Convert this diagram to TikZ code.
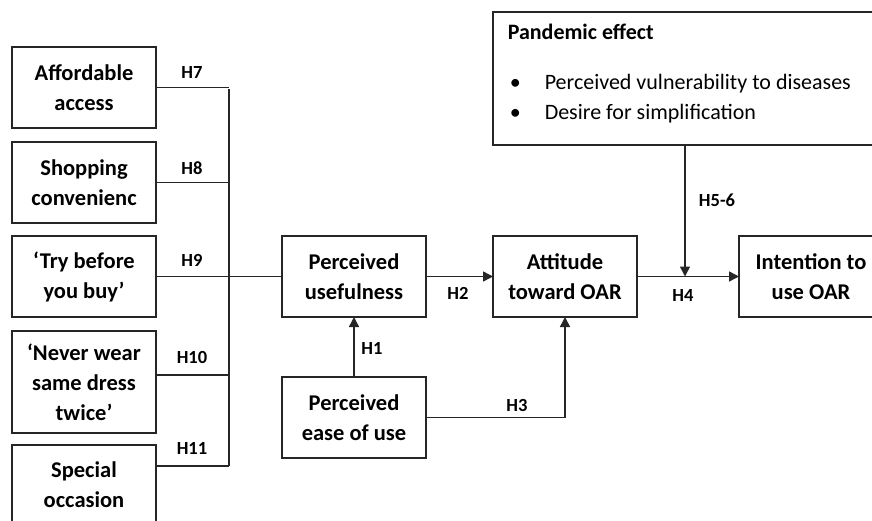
\documentclass[tikz,border=0pt]{standalone}
\usepackage{fontspec}
\setmainfont{Carlito}
\usetikzlibrary{arrows.meta, positioning}

\begin{document}
\begin{tikzpicture}[x=1pt, y=-1pt, line width=1.5pt, draw=black!85,
    box/.style={rectangle, draw, fill=white, minimum width=144pt, minimum height=81pt,
        inner sep=2pt, outer sep=0pt, align=center, font=\fontsize{22.5}{30}\selectfont\bfseries},
    lbl/.style={font=\fontsize{18.5}{20}\selectfont\bfseries, inner sep=0pt},
    item/.style={anchor=base west, font=\fontsize{22}{26}\selectfont, inner sep=0pt},
    arr/.style={-{Triangle[length=10pt, width=10pt]}}]

    \useasboundingbox (0,0) rectangle (872,521);
    \clip (0,0) rectangle (872,521);

    % antecedents
    \node[box] (afford) at (84,87.5) {Affordable\\access};
    \node[box, below=14pt of afford] (shop) {Shopping\\convenienc};
    \node[box, below=13pt of shop] (try) {‘Try before\\you buy’};
    \node[box, below=14pt of try, minimum height=102pt] (never) {‘Never wear\\same dress\\twice’};
    \node[box, below=12pt of never, minimum height=80pt] (special) {Special\\occasion};

    % TAM core
    \node[box] (pu) at (354,276.5) {Perceived\\usefulness};
    \node[box, right=67pt of pu] (att) {Attitude\\toward OAR};
    \node[box, right=102pt of att] (intent) {Intention to\\use OAR};
    \node[box, below=60pt of pu] (ease) {Perceived\\ease of use};
    \node[box, minimum width=384pt, minimum height=133pt] (pan) at (685,78.5) {};

    \node[item, font=\fontsize{22}{26}\selectfont\bfseries] (pantitle) at (507,40) {Pandemic effect};
    \node[item] (bul1) at (509,90) {\textbullet};
    \node[item] (vuln) at (544,90) {Perceived vulnerability to diseases};
    \node[item] (bul2) at (509,120) {\textbullet};
    \node[item] (simp) at (544,120) {Desire for simplification};

    % bus
    \coordinate (bustop) at (229,89);
    \coordinate (busbot) at (229,466);
    \draw (bustop) -- (busbot);
    \draw (afford.east) -- (afford.east -| bustop);
    \draw (shop.east) -- (shop.east -| bustop);
    \draw (try.east) -- (pu.west);
    \draw ([yshift=7pt]never.east) -- ([yshift=7pt]never.east -| bustop);
    \draw ([yshift=-21pt]special.north east) -- (busbot);

    \draw[arr] (ease.north) -- (pu.south);
    \draw[arr] (pu.east) -- (att.west);
    \draw[arr] (ease.east) -| (att.south);
    \draw[arr] (att.east) -- (intent.west);
    \draw[arr] (pan.south) -- (pan.south |- att.east);

    % labels
    \node[lbl] (h7) at (192,73) {H7};
    \node[lbl] (h8) at (192,168) {H8};
    \node[lbl] (h9) at (192,260) {H9};
    \node[lbl] (h10) at (192,357) {H10};
    \node[lbl] (h11) at (192,448) {H11};
    \node[lbl] (h1) at (372,348) {H1};
    \node[lbl] (h2) at (458,293) {H2};
    \node[lbl] (h3) at (517,405) {H3};
    \node[lbl] (h4) at (683,295) {H4};
    \node[lbl] (h56) at (717,200) {H5-6};
\end{tikzpicture}
\end{document}
